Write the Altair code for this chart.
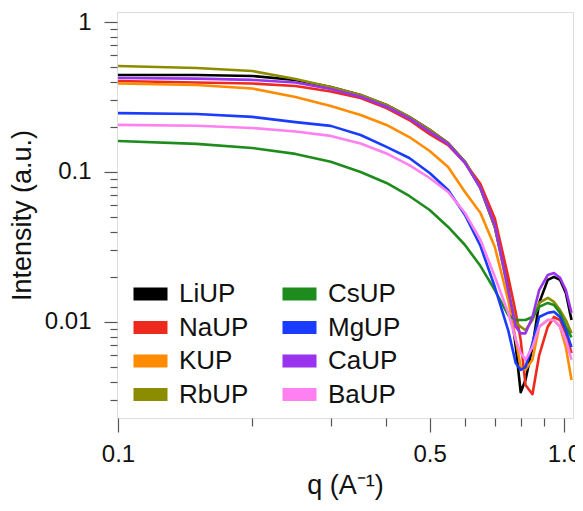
import altair as alt
import pandas as pd

q = [0.1, 0.15, 0.2, 0.25, 0.3, 0.35, 0.4, 0.45, 0.5, 0.55, 0.6, 0.65, 0.7,
     0.75, 0.78, 0.8, 0.82, 0.85, 0.88, 0.92, 0.95, 0.98, 1.01, 1.04]

series_names = ["LiUP", "NaUP", "KUP", "RbUP", "CsUP", "MgUP", "CaUP", "BaUP"]
series_colors = ["#000000", "#ee2a1e", "#ff8c00", "#8b8c00",
                 "#1d8c1d", "#1a3cff", "#9933ee", "#ff80f0"]

LiUP = [0.443, 0.443, 0.437, 0.411, 0.369, 0.326, 0.280, 0.233, 0.191, 0.156, 0.117, 0.078,
        0.043, 0.0171, 0.0068, 0.0034, 0.0041, 0.0068, 0.0134, 0.0191, 0.0200, 0.0191, 0.0156, 0.0103]
NaUP = [0.404, 0.395, 0.389, 0.374, 0.344, 0.311, 0.267, 0.222, 0.179, 0.151, 0.115, 0.083,
        0.049, 0.0200, 0.0115, 0.0076, 0.0038, 0.0033, 0.0060, 0.0093, 0.0108, 0.0103, 0.0084, 0.0062]
KUP = [0.389, 0.380, 0.360, 0.316, 0.275, 0.240, 0.206, 0.171, 0.138, 0.108, 0.0736, 0.0533,
       0.0316, 0.0140, 0.0076, 0.0050, 0.0048, 0.0056, 0.0093, 0.0103, 0.0103, 0.0093, 0.0068, 0.0041]
RbUP = [0.509, 0.494, 0.471, 0.417, 0.369, 0.326, 0.280, 0.233, 0.191, 0.156, 0.117, 0.078,
        0.043, 0.0163, 0.0099, 0.0093, 0.0088, 0.0103, 0.0134, 0.0145, 0.0136, 0.0120, 0.0103, 0.0084]
CsUP = [0.161, 0.154, 0.1445, 0.132, 0.117, 0.100, 0.0845, 0.0692, 0.0558, 0.0430, 0.0326, 0.0236,
        0.0163, 0.0111, 0.0103, 0.0103, 0.0103, 0.0108, 0.0126, 0.0134, 0.0130, 0.0115, 0.0093, 0.0079]
MgUP = [0.247, 0.2435, 0.233, 0.215, 0.203, 0.1765, 0.147, 0.124, 0.0985, 0.0759, 0.0517, 0.0321,
        0.0171, 0.0088, 0.0053, 0.0048, 0.0050, 0.0072, 0.0108, 0.0115, 0.0117, 0.0108, 0.0088, 0.0068]
CaUP = [0.423, 0.419, 0.411, 0.395, 0.358, 0.318, 0.2725, 0.228, 0.185, 0.154, 0.115, 0.078,
        0.0443, 0.0163, 0.0093, 0.0084, 0.0084, 0.0108, 0.0163, 0.0206, 0.0212, 0.0197, 0.0163, 0.0115]
BaUP = [0.206, 0.2035, 0.1965, 0.186, 0.174, 0.155, 0.133, 0.111, 0.0912, 0.0736, 0.0533, 0.0352,
        0.0200, 0.0115, 0.0076, 0.0062, 0.0056, 0.0068, 0.0093, 0.0103, 0.0103, 0.0093, 0.0076, 0.0056]

x_ticks = [0.1, 0.2, 0.3, 0.4, 0.5, 0.6, 0.7, 0.8, 0.9, 1.0]
y_ticks = [0.003, 0.004, 0.005, 0.006, 0.007, 0.008, 0.009,
           0.01, 0.02, 0.03, 0.04, 0.05, 0.06, 0.07, 0.08, 0.09,
           0.1, 0.2, 0.3, 0.4, 0.5, 0.6, 0.7, 0.8, 0.9, 1.0]

all_series = [LiUP, NaUP, KUP, RbUP, CsUP, MgUP, CaUP, BaUP]
rows = []
for k, (name, vals) in enumerate(zip(series_names, all_series)):
    for i, (qq, v) in enumerate(zip(q, vals)):
        rows.append({"q": qq, "I": v, "sample": name, "k": k, "i": i})
df = pd.DataFrame(rows)

FONT = "Liberation Sans"

x_axis = alt.Axis(
    values=x_ticks,
    labelExpr="datum.value == 0.1 ? '0.1' : datum.value == 0.5 ? '0.5' : datum.value == 1 ? '1.0' : ''",
    tickSize={"condition": {"test": "datum.value == 0.1 || datum.value == 0.5 || datum.value == 1", "value": 14}, "value": 8},
    labelPadding=10,
    labelFontSize=24,
    labelFont=FONT,
    labelColor="#111",
    labelFlush=False,
    labelOverlap=False,
    title="q (A\u207b\u00b9)",
    titleFontSize=27,
    titleFont=FONT,
    titleFontWeight="normal",
    titleColor="#111",
    titlePadding=6,
    tickColor="#555",
    tickWidth=1.2,
    domain=False,
    grid=False,
)

y_axis = alt.Axis(
    values=y_ticks,
    labelExpr="datum.value == 1 ? '1' : datum.value == 0.1 ? '0.1' : datum.value == 0.01 ? '0.01' : ''",
    tickSize={"condition": {"test": "datum.value == 1 || datum.value == 0.1 || datum.value == 0.01", "value": 13}, "value": 7},
    labelPadding=13,
    labelFontSize=24,
    labelFont=FONT,
    labelColor="#111",
    labelOverlap=False,
    labelFlush=False,
    title="Intensity (a.u.)",
    titleFontSize=27,
    titleFont=FONT,
    titleFontWeight="normal",
    titleColor="#111",
    titlePadding=8,
    tickColor="#555",
    tickWidth=1.2,
    domain=False,
    grid=False,
)

legend = alt.Legend(
    title=None,
    orient="none",
    legendX=10,
    legendY=267,
    columns=2,
    padding=0,
    symbolType="M-1,0H1",
    symbolSize=1156,
    symbolStrokeWidth=13,
    symbolOpacity=1,
    clipHeight=30,
    labelFontSize=26,
    labelFont=FONT,
    labelColor="#111",
    labelOffset=5,
    columnPadding=27,
    rowPadding=3.5,
    labelLimit=200,
)

chart = alt.Chart(df).mark_line(strokeWidth=2.6, strokeJoin="round").encode(
    x=alt.X("q:Q", scale=alt.Scale(type="log", domain=[0.0995, 1.048], nice=False), axis=x_axis),
    y=alt.Y("I:Q", scale=alt.Scale(type="log", domain=[0.00229, 1.166], nice=False), axis=y_axis),
    color=alt.Color("sample:N", scale=alt.Scale(domain=series_names, range=series_colors),
                    sort=series_names, legend=legend),
    detail="k:O",
    order="i:Q",
).properties(
    width=456,
    height=406,
    autosize=alt.AutoSizeParams(type="none"),
    padding={"left": 109, "top": 4, "right": 2, "bottom": 93},
).configure_view(
    stroke="#8a8a8a",
    strokeWidth=1.6,
).configure(background="white")

chart.save("out.html", embed_options={"renderer": "svg", "actions": False})
